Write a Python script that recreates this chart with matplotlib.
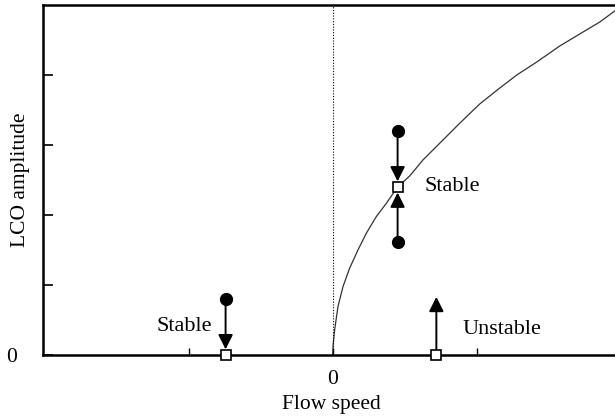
import matplotlib
matplotlib.use("Agg")
import matplotlib.pyplot as plt

plt.rcParams['font.family'] = ['Liberation Serif', 'DejaVu Serif']
plt.rcParams['font.size'] = 15.5

# LCO branch (flow speed, amplitude)
curve_x = [0.0, 0.0035, 0.014, 0.037, 0.072, 0.118, 0.176, 0.234, 0.303, 0.373, 0.451,
           0.535, 0.627, 0.743, 0.882, 1.021, 1.16, 1.278, 1.417, 1.576, 1.715, 1.854, 1.958]
curve_y = [0.0, 0.143, 0.357, 0.69, 0.976, 1.239, 1.5, 1.739, 1.976, 2.167, 2.4,
           2.557, 2.786, 3.024, 3.31, 3.586, 3.814, 4.0, 4.186, 4.414, 4.586, 4.757, 4.914]

# equilibria (open squares)
eq_x = [-0.743, 0.451, 0.72]
eq_y = [0.0, 2.4, 0.0]

# perturbed starting states (filled circles)
start_x = [-0.743, 0.451, 0.451]
start_y = [0.8, 3.2, 1.61]
start_to = [0, 1, 1]   # which equilibrium each one goes to

# unstable: arrow leaving the equilibrium upwards
away_x = [0.72]
away_y = [0.83]

labels = ["Stable", "Stable", "Unstable"]
label_x = [-0.84, 0.639, 0.903]
label_y = [0.4, 2.4, 0.357]
label_ha = ['right', 'left', 'left']

fig = plt.figure(figsize=(6.15, 4.2), dpi=100)
ax = fig.add_axes([0.07, 0.155, 0.93, 0.833])

ax.plot(curve_x, curve_y, color='#333333', lw=0.9)
ax.axvline(0, color='k', lw=0.8, ls=(0, (1, 1.5)))

arrow = dict(arrowstyle='-|>', color='k', lw=1.4, mutation_scale=22)
for sx, sy, k in zip(start_x, start_y, start_to):
    ax.annotate('', xy=(eq_x[k], eq_y[k]), xytext=(sx, sy),
                arrowprops=dict(arrow, shrinkA=0, shrinkB=4))
for px, py in zip(away_x, away_y):
    ax.annotate('', xy=(px, py), xytext=(eq_x[2], eq_y[2]),
                arrowprops=dict(arrow, shrinkA=0, shrinkB=0))

ax.plot(start_x, start_y, 'o', color='k', ms=8.5, zorder=5)
ax.plot(eq_x, eq_y, 's', mfc='white', mec='k', mew=1.2, ms=7.5, zorder=6, clip_on=False)

for t, tx, ty, ha in zip(labels, label_x, label_y, label_ha):
    ax.text(tx, ty, t, ha=ha, va='center', fontsize=16)

ax.set_xlim(-2.01, 1.96)
ax.set_ylim(0, 5)

ax.set_xticks([-1, 0, 1])
ax.set_xticklabels(['', '0', ''])
ax.set_yticks([0, 1, 2, 3, 4])
ax.set_yticklabels(['0', '', '', '', ''])
ax.tick_params(axis='x', direction='in', length=5, width=1, pad=11)
ax.tick_params(axis='y', direction='in', length=7, width=1.2, pad=19)

ax.set_xlabel('Flow speed')
ax.set_ylabel('LCO amplitude')
ax.xaxis.set_label_coords(0.504, -0.115)
ax.yaxis.set_label_coords(-0.022, 0.5)

for s in ['left', 'bottom', 'top']:
    ax.spines[s].set_linewidth(1.8)
ax.spines['right'].set_visible(False)

fig.savefig('out.png', dpi=100)
